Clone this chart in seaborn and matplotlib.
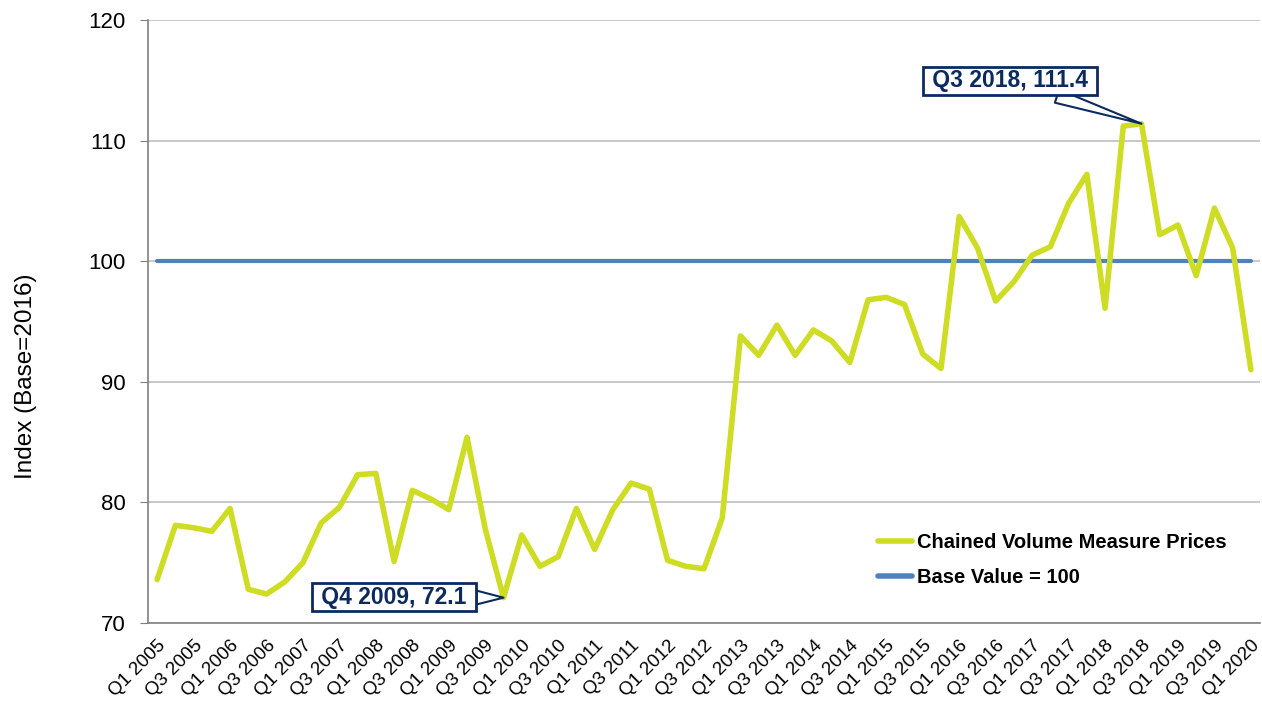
import numpy as np
import pandas as pd
import matplotlib
matplotlib.use("Agg")
import matplotlib.pyplot as plt
import seaborn as sns

quarters = [f"Q{q} {y}" for y in range(2005, 2021) for q in range(1, 5)][:61]
cvm_prices = [73.6, 78.1, 77.9, 77.6, 79.5, 72.8, 72.4, 73.4, 75.0, 78.3,
              79.6, 82.3, 82.4, 75.1, 81.0, 80.3, 79.4, 85.4, 77.8, 72.1,
              77.3, 74.7, 75.5, 79.5, 76.1, 79.4, 81.6, 81.1, 75.2, 74.7,
              74.5, 78.7, 93.8, 92.2, 94.7, 92.2, 94.3, 93.4, 91.6, 96.8,
              97.0, 96.4, 92.3, 91.1, 103.7, 101.1, 96.7, 98.3, 100.5, 101.2,
              104.8, 107.2, 96.1, 111.2, 111.4, 102.2, 103.0, 98.8, 104.4, 101.1,
              91.0]
base_value = [100.0] * len(quarters)
series_names = ["Chained Volume Measure Prices", "Base Value = 100"]
annotations = [("Q4 2009", 72.1), ("Q3 2018", 111.4)]
y_ticks = [70, 80, 90, 100, 110, 120]

sns.set_style("white")
plt.rcParams['font.family'] = ['Liberation Sans', 'DejaVu Sans']
plt.rcParams['text.color'] = 'black'
plt.rcParams['axes.labelcolor'] = 'black'
plt.rcParams['xtick.color'] = 'black'
plt.rcParams['ytick.color'] = 'black'

GREEN = "#CEDC24"
BLUE = "#4F81BD"
NAVY = "#0C2A5E"

df = pd.DataFrame({"idx": np.arange(len(quarters)), "q": quarters,
                   "cvm": cvm_prices, "base": base_value})

fig = plt.figure(figsize=(12.62, 7.02), dpi=100)
ax = fig.add_axes([148/1262, 79/702, 1112/1262, 603/702])

sns.lineplot(data=df, x="idx", y="cvm", ax=ax, color=GREEN, linewidth=4.0,
             label=series_names[0], zorder=3)
sns.lineplot(data=df, x="idx", y="base", ax=ax, color=BLUE, linewidth=3,
             label=series_names[1], zorder=2)

ax.set_xlim(-0.5, len(quarters) - 0.5)
ax.set_ylim(70, 120)
ax.set_yticks(y_ticks)
ax.set_yticklabels([str(t) for t in y_ticks], fontsize=16)
ax.yaxis.grid(True, color="#BFBFBF", linewidth=1.2)
ax.set_axisbelow(True)

ax.set_xticks(np.arange(0, len(quarters), 2))
ax.set_xticklabels(quarters[::2], rotation=45, ha="right",
                   rotation_mode="anchor", fontsize=13.5)
ax.set_xticks(np.arange(-0.5, len(quarters), 2), minor=True)
ax.tick_params(axis="x", which="major", length=0, pad=10)
ax.tick_params(axis="x", which="minor", length=6, color="#808080", direction="out")
ax.tick_params(axis="y", length=6, color="#808080", labelcolor="black",
               direction="out", left=True, pad=10)

for s in ["top", "right"]:
    ax.spines[s].set_visible(False)
for s in ["left", "bottom"]:
    ax.spines[s].set_color("#808080")
    ax.spines[s].set_linewidth(1.2)

ax.set_xlabel("")
ax.set_ylabel("Index (Base=2016)", fontsize=17.5)
ax.yaxis.set_label_coords(-0.100, 0.41)

leg = ax.legend(loc="upper left", bbox_to_anchor=(0.64, 0.18), frameon=False,
                prop={"weight": "bold", "size": 14.5}, handlelength=1.7,
                handletextpad=0.25, labelspacing=0.8)
for h in leg.get_lines():
    h.set_linewidth(4)

# Annotations
q_lookup = {q: i for i, q in enumerate(quarters)}
text_pos = {"Q4 2009": (13.0, 72.15), "Q3 2018": (46.8, 114.95)}
for q, v in annotations:
    i = q_lookup[q]
    ax.annotate(f" {q}, {v} ", xy=(i, v), xytext=text_pos[q],
                ha="center", va="center", fontsize=16.5, fontweight="bold",
                color=NAVY, zorder=5,
                bbox=dict(boxstyle="square,pad=0.12", fc="white", ec=NAVY, lw=2),
                arrowprops=dict(arrowstyle="wedge,tail_width=0.6,shrink_factor=0.5",
                                fc="white", ec=NAVY, lw=1.5,
                                shrinkA=0, shrinkB=0),
                annotation_clip=False)

fig.savefig("out.png", dpi=100)
